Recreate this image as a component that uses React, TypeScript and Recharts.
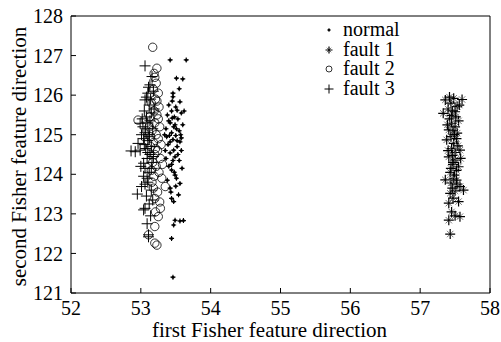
import React from "react";
import { ScatterChart, Scatter, XAxis, YAxis, ReferenceLine, Legend } from "recharts";

const FONT = '"Liberation Serif", "Times New Roman", serif';

const X_TICKS = [52, 53, 54, 55, 56, 57, 58];
const Y_TICKS = [121, 122, 123, 124, 125, 126, 127, 128];

// [first Fisher direction, second Fisher direction]
const normalPts = [
  [53.42, 126.89], [53.65, 126.89], [53.51, 126.43], [53.6, 126.41], [53.55, 126.16],
  [53.46, 126.05], [53.46, 125.96], [53.56, 125.83], [53.4, 125.75], [53.5, 125.7],
  [53.44, 125.6], [53.58, 125.55], [53.38, 125.5], [53.48, 125.45], [53.53, 125.4],
  [53.42, 125.3], [53.6, 125.25], [53.47, 125.2], [53.36, 125.15], [53.55, 125.1],
  [53.44, 125.05], [53.5, 124.98], [53.58, 124.92], [53.42, 124.82], [53.56, 124.82],
  [53.39, 124.75], [53.52, 124.7], [53.47, 124.61], [53.42, 124.54], [53.49, 124.44],
  [53.36, 124.4], [53.55, 124.35], [53.44, 124.25], [53.59, 124.15], [53.44, 124.11],
  [53.49, 123.98], [53.51, 123.9], [53.38, 123.85], [53.56, 123.77], [53.42, 123.65],
  [53.54, 123.48], [53.44, 123.39], [53.47, 123.31], [53.49, 122.84], [53.56, 122.82],
  [53.61, 122.83], [53.47, 122.72], [53.44, 122.38], [53.46, 121.4], [53.52, 125.62],
  [53.4, 125.35], [53.57, 125.0], [53.46, 124.88], [53.53, 124.5], [53.4, 124.2],
  [53.48, 124.05], [53.34, 125.0], [53.35, 124.6], [53.62, 125.6], [53.45, 125.85],
  [53.51, 125.15], [53.58, 124.6], [53.43, 123.55], [53.5, 123.7], [53.37, 124.95],
  [53.45, 125.42], [53.49, 125.25], [53.41, 124.98], [53.52, 124.85], [53.46, 124.35],
];

const fault1Pts = [
  [57.36, 125.88], [57.48, 125.92], [57.6, 125.89], [57.53, 125.71], [57.44, 125.8],
  [57.4, 125.65], [57.33, 125.54], [57.45, 125.49], [57.5, 125.58], [57.42, 125.4],
  [57.55, 125.35], [57.45, 125.29], [57.5, 125.2], [57.41, 125.12], [57.53, 125.04],
  [57.47, 125.1], [57.44, 124.95], [57.38, 124.87], [57.48, 124.78], [57.52, 124.9],
  [57.57, 124.61], [57.45, 124.65], [57.5, 124.55], [57.41, 124.44], [57.5, 124.36],
  [57.46, 124.48], [57.55, 124.19], [57.47, 124.25], [57.52, 124.1], [57.43, 124.05],
  [57.49, 123.98], [57.36, 123.86], [57.48, 123.9], [57.44, 123.78], [57.53, 123.75],
  [57.57, 123.69], [57.62, 123.6], [57.43, 123.52], [57.5, 123.58], [57.41, 123.27],
  [57.55, 123.31], [57.47, 123.4], [57.45, 123.05], [57.57, 122.93], [57.41, 122.84],
  [57.43, 122.49], [57.46, 125.6], [57.51, 125.45], [57.39, 125.25], [57.49, 125.0],
  [57.54, 124.72], [57.47, 124.3], [57.44, 124.15], [57.52, 123.85], [57.46, 123.65],
  [57.56, 125.75], [57.42, 125.95], [57.58, 124.4], [57.4, 124.6], [57.5, 122.95],
];

const fault2Pts = [
  [53.17, 127.21], [53.23, 126.68], [53.2, 126.45], [53.22, 126.3], [53.18, 126.15],
  [53.25, 126.05], [53.21, 125.9], [53.15, 125.8], [53.26, 125.7], [53.19, 125.6],
  [53.23, 125.5], [53.13, 125.45], [52.96, 125.37], [53.2, 125.3], [53.27, 125.2],
  [53.16, 125.1], [53.22, 125.0], [53.25, 124.9], [53.18, 124.8], [53.14, 124.7],
  [53.24, 124.6], [53.2, 124.5], [53.28, 124.4], [53.17, 124.3], [53.22, 124.2],
  [53.26, 124.05], [53.19, 123.95], [53.3, 123.9], [53.35, 123.69], [53.18, 123.65],
  [53.24, 123.55], [53.2, 123.39], [53.27, 123.3], [53.28, 123.14], [53.21, 123.05],
  [53.25, 122.93], [53.2, 122.68], [53.11, 122.47], [53.2, 122.26], [53.23, 122.21],
  [53.15, 124.1], [53.23, 125.85], [53.29, 124.75], [53.12, 125.2], [53.21, 124.65],
  [53.19, 126.55], [53.25, 125.4], [53.16, 123.8], [53.31, 124.25], [53.14, 124.95],
];

const fault3Pts = [
  [53.06, 126.74], [53.16, 126.47], [53.13, 126.26], [53.06, 125.88], [53.1, 126.05],
  [53.18, 126.1], [52.99, 125.29], [53.05, 125.6], [53.12, 125.75], [53.08, 125.45],
  [53.15, 125.55], [53.03, 125.2], [53.1, 125.3], [53.17, 125.15], [53.06, 125.05],
  [53.12, 125.0], [52.96, 124.78], [52.92, 124.57], [52.99, 124.61], [52.86, 124.59],
  [53.04, 124.9], [53.1, 124.85], [53.15, 124.7], [53.07, 124.65], [53.13, 124.5],
  [53.04, 124.28], [53.09, 124.4], [53.16, 124.3], [53.06, 124.15], [53.12, 124.05],
  [52.95, 123.5], [53.01, 123.69], [53.04, 123.95], [53.1, 123.8], [53.15, 123.6],
  [53.08, 123.45], [53.04, 123.1], [53.06, 123.14], [53.12, 123.25], [53.14, 122.95],
  [53.11, 122.47], [53.11, 122.42], [53.09, 122.75], [53.17, 123.35], [53.02, 125.4],
  [53.08, 125.95], [53.14, 125.9], [53.0, 124.2], [53.12, 124.95], [53.18, 124.45],
  [53.05, 124.75], [53.1, 124.55], [53.13, 125.35], [53.07, 125.15], [53.15, 124.15],
  [53.09, 123.9], [53.19, 125.65], [53.11, 126.2], [53.01, 125.0], [53.06, 123.75],
];

const toPts = (arr: number[][]) => arr.map(([x, y]) => ({ x, y }));

type Kind = "normal" | "fault1" | "fault2" | "fault3";

const SERIES: { name: string; kind: Kind; data: number[][] }[] = [
  { name: "normal", kind: "normal", data: normalPts },
  { name: "fault 1", kind: "fault1", data: fault1Pts },
  { name: "fault 2", kind: "fault2", data: fault2Pts },
  { name: "fault 3", kind: "fault3", data: fault3Pts },
];

function marker(kind: Kind, small = false) {
  const k = small ? 0.7 : 1;
  if (kind === "normal") {
    return (
      <g>
        <circle r={1.5 * k} fill="#000" />
        <path d={`M${-2.5 * k} 0H${2.5 * k}M0 ${-2.5 * k}V${2.5 * k}`} stroke="#000" strokeWidth={1.1} />
      </g>
    );
  }
  if (kind === "fault1") {
    const a = 5 * k;
    const d = 3.2 * k;
    return (
      <g>
        <path d={`M${-d} ${-d}L${d} ${d}M${-d} ${d}L${d} ${-d}`} stroke="#777" strokeWidth={1} />
        <path d={`M${-a} 0H${a}M0 ${-a}V${a}`} stroke="#000" strokeWidth={1.2} />
      </g>
    );
  }
  if (kind === "fault2") {
    return <circle r={small ? 3 : 4.2} fill="none" stroke="#000" strokeWidth={0.8} />;
  }
  const a = small ? 4.5 : 5.5;
  return <path d={`M${-a} 0H${a}M0 ${-a}V${a}`} stroke="#000" strokeWidth={1} />;
}

const makeShape = (kind: Kind) => (props: any) => {
  const { cx, cy } = props;
  if (cx == null || cy == null) return <g />;
  return <g transform={`translate(${cx},${cy})`}>{marker(kind)}</g>;
};

const XTick = (props: any) => (
  <text x={props.x} y={props.y} dy="0.71em" textAnchor="middle" fontFamily={FONT} fontSize={20} fill="#000">
    {props.payload.value}
  </text>
);

const YTick = (props: any) => (
  <text x={props.x} y={props.y} dy="0.36em" textAnchor="end" fontFamily={FONT} fontSize={20} fill="#000">
    {props.payload.value}
  </text>
);

function LegendBox() {
  return (
    <div style={{ fontFamily: FONT, fontSize: 20, color: "#000" }}>
      {SERIES.map((s) => (
        <div key={s.name} style={{ display: "flex", alignItems: "center", height: 19.5 }}>
          <svg width={14} height={14}>
            <g transform="translate(7,7)">{marker(s.kind, true)}</g>
          </svg>
          <span style={{ display: "inline-block", marginLeft: 7, lineHeight: "19.5px", height: 19.5, whiteSpace: "nowrap" }}>
            {s.name}
          </span>
        </div>
      ))}
    </div>
  );
}

const YTitle = (props: any) => {
  const vb = props.viewBox;
  const x = vb.x + 26;
  const y = vb.y + vb.height / 2 + 2;
  return (
    <text x={x} y={y} transform={`rotate(-90 ${x} ${y})`} textAnchor="middle" fontFamily={FONT} fontSize={21} fill="#000">
      second Fisher feature direction
    </text>
  );
};

const XTitle = (props: any) => {
  const vb = props.viewBox;
  return (
    <text x={vb.x + vb.width / 2 - 11} y={vb.y + 44} textAnchor="middle" fontFamily={FONT} fontSize={21} fill="#000">
      first Fisher feature direction
    </text>
  );
};

export default function App() {
  return (
    <div style={{ position: "absolute", left: 0, top: 0, background: "#fff", fontFamily: FONT }}>
      <ScatterChart width={501} height={342} margin={{ top: 16, right: 11, left: 0, bottom: 0 }}>
        <XAxis
          type="number"
          dataKey="x"
          domain={[52, 58]}
          ticks={X_TICKS}
          height={49}
          tickSize={-5}
          tickMargin={12.5}
          axisLine={{ stroke: "#000" }}
          tickLine={{ stroke: "#000" }}
          tick={XTick}
          label={XTitle}
        />
        <YAxis
          type="number"
          dataKey="y"
          domain={[121, 128]}
          ticks={Y_TICKS}
          width={71}
          tickSize={-5}
          tickMargin={13}
          axisLine={{ stroke: "#000" }}
          tickLine={{ stroke: "#000" }}
          tick={YTick}
          label={YTitle}
        />
        <ReferenceLine y={128} stroke="#000" />
        <ReferenceLine x={58} stroke="#000" />
        <Legend
          layout="vertical"
          verticalAlign="middle"
          align="center"
          content={() => <LegendBox />}
          wrapperStyle={{ left: 322, top: 20.25, width: "auto", margin: 0 }}
        />
        {SERIES.map((s) => (
          <Scatter
            key={s.name}
            name={s.name}
            data={toPts(s.data)}
            shape={makeShape(s.kind)}
            isAnimationActive={false}
          />
        ))}
      </ScatterChart>
    </div>
  );
}
